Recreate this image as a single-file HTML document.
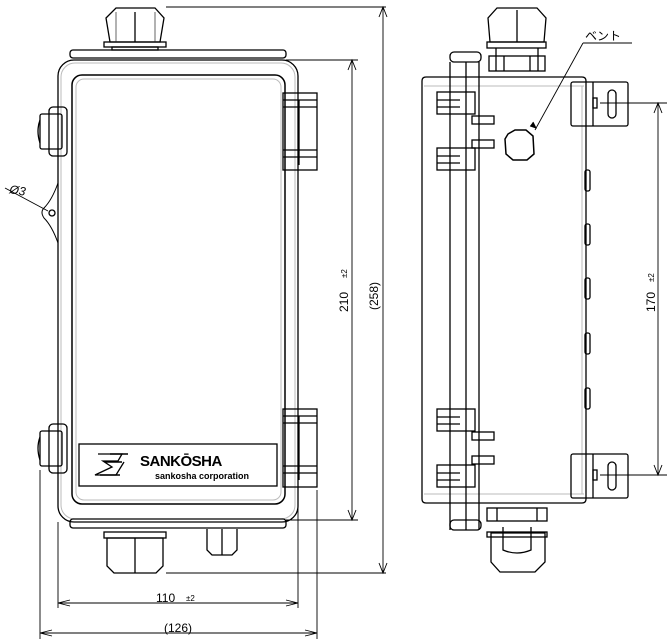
<!DOCTYPE html>
<html><head><meta charset="utf-8"><style>
html,body{margin:0;padding:0;background:#fff;}
svg{display:block}
text{font-family:"Liberation Sans","Noto Sans CJK JP",sans-serif;fill:#000}
</style></head><body>
<svg width="667" height="639" viewBox="0 0 667 639" xmlns="http://www.w3.org/2000/svg" fill="none" stroke="#000" stroke-width="1.3">
<!-- LEFT VIEW -->
<!-- top gland -->
<path d="M110 42 L106 18 L116 8 L155 8 L164 18 L160 42 Z"/>
<line x1="135" y1="12" x2="135" y2="42"/>
<line x1="116" y1="12" x2="116" y2="42" stroke="#888"/>
<line x1="155" y1="12" x2="155" y2="42" stroke="#888"/>
<rect x="104" y="42" width="62" height="5"/>
<rect x="112" y="47" width="46" height="3"/>
<!-- top flange -->
<rect x="70" y="50" width="216" height="8" rx="3"/>
<!-- outer body -->
<rect x="58" y="60" width="240" height="462" rx="16"/>
<rect x="61" y="63" width="234" height="456" rx="14" stroke="#bbb" stroke-width="1"/>
<!-- lid panel -->
<rect x="72" y="75" width="213" height="429" rx="10" stroke-width="1.5"/>
<rect x="76" y="79" width="205" height="421" rx="8" stroke="#bbb" stroke-width="1"/>
<!-- bottom flange -->
<rect x="70" y="519" width="216" height="9" rx="3"/>
<!-- bottom gland -->
<rect x="104" y="532" width="62" height="6"/>
<path d="M107 538 L107 566 L114 573 L156 573 L163 566 L163 538 Z"/>
<line x1="135" y1="538" x2="135" y2="573"/>
<!-- vent bottom -->
<path d="M207 529 L207 550 L212 555 L232 555 L237 550 L237 529"/>
<line x1="222" y1="529" x2="222" y2="555"/>
<!-- hinges right -->
<g>
<rect x="283" y="93" width="34" height="77"/>
<line x1="283" y1="100" x2="317" y2="100"/><line x1="283" y1="107" x2="317" y2="107"/>
<line x1="283" y1="150" x2="317" y2="150"/><line x1="283" y1="157" x2="317" y2="157"/>
<line x1="299" y1="100" x2="299" y2="165"/>
<rect x="283" y="409" width="34" height="78"/>
<line x1="283" y1="416" x2="317" y2="416"/><line x1="283" y1="423" x2="317" y2="423"/>
<line x1="283" y1="466" x2="317" y2="466"/><line x1="283" y1="473" x2="317" y2="473"/>
<line x1="299" y1="416" x2="299" y2="480"/>
</g>
<!-- latches left -->
<rect x="49" y="107" width="18" height="49" rx="4"/>
<rect x="40" y="114" width="22" height="35" rx="2"/>
<path d="M40 120 Q36 131 40 143"/>
<rect x="49" y="424" width="18" height="49" rx="4"/>
<rect x="40" y="431" width="22" height="35" rx="2"/>
<path d="M40 437 Q36 448 40 460"/>
<!-- mounting ear -->
<path d="M58 183 Q52 200 44 208 Q40 212 44 218 Q52 226 58 243" stroke-width="1"/>
<circle cx="52" cy="213" r="3"/>
<line x1="5" y1="188" x2="48" y2="211" stroke-width="0.9"/>
<text x="9" y="193" font-size="12" stroke="none" font-style="italic" transform="rotate(10 9 193)">Ø3</text>
<!-- label -->
<rect x="79" y="444" width="198" height="42"/>
<path d="M98 454 L122 454 L118 461 L103 461 L112 467 L95 475 L116 475 L124 462" stroke-width="1.3"/>
<path d="M110 454 L128 454 M105 462 L122 462 M100 475 L120 475" stroke-width="1.5"/>
<text x="140" y="466" font-size="15" font-weight="bold" stroke="none" letter-spacing="-0.5">SANKŌSHA</text>
<text x="155" y="479" font-size="9" font-weight="bold" stroke="none">sankosha corporation</text>
<!-- dims left -->
<g stroke-width="0.9">
<line x1="166" y1="7" x2="386" y2="7"/>
<line x1="286" y1="60" x2="358" y2="60"/>
<line x1="286" y1="520" x2="358" y2="520"/>
<line x1="166" y1="573" x2="386" y2="573"/>
<line x1="352" y1="60" x2="352" y2="520"/>
<path d="M348 70 L352 60 L356 70 M348 510 L352 520 L356 510"/>
<line x1="383" y1="7" x2="383" y2="573"/>
<path d="M379 17 L383 7 L387 17 M379 563 L383 573 L387 563"/>
<line x1="58" y1="522" x2="58" y2="608"/>
<line x1="298" y1="490" x2="298" y2="608"/>
<line x1="40" y1="470" x2="40" y2="639"/>
<line x1="317" y1="490" x2="317" y2="639"/>
<line x1="58" y1="603" x2="298" y2="603"/>
<path d="M70 600 L58 603 L70 606 M286 600 L298 603 L286 606"/>
<line x1="40" y1="633" x2="317" y2="633"/>
<path d="M52 630 L40 633 L52 636 M305 630 L317 633 L305 636"/>
</g>
<g stroke="none">
<text x="156" y="602" font-size="12">110</text><text x="186" y="601" font-size="8">±2</text>
<text x="164" y="632" font-size="12">(126)</text>
<text transform="translate(348 312) rotate(-90)" font-size="12">210</text>
<text transform="translate(347 278) rotate(-90)" font-size="8">±2</text>
<text transform="translate(378 310) rotate(-90)" font-size="12">(258)</text>
</g>

<!-- RIGHT VIEW -->
<!-- top gland -->
<path d="M490 42 L488 18 L497 8 L537 8 L546 18 L544 42 Z"/>
<line x1="517" y1="10" x2="517" y2="42"/>
<rect x="487" y="42" width="59" height="6"/>
<rect x="489" y="56" width="56" height="15"/>
<line x1="496" y1="48" x2="496" y2="71"/><line x1="538" y1="48" x2="538" y2="71"/>
<line x1="504" y1="56" x2="504" y2="71"/><line x1="530" y1="56" x2="530" y2="71"/>
<!-- body -->
<path d="M426 77 L582 77 Q586 77 586 81 L586 499 Q586 503 582 503 L426 503 Q422 503 422 499 L422 81 Q422 77 426 77 Z"/>
<line x1="424" y1="86" x2="584" y2="86" stroke="#bbb" stroke-width="1"/>
<line x1="424" y1="494" x2="584" y2="494" stroke="#bbb" stroke-width="1"/>
<line x1="582" y1="86" x2="582" y2="494" stroke="#bbb" stroke-width="1"/>
<!-- lid strip -->
<path d="M450 62 L450 530 M466 62 L466 530 M479 62 L479 530"/>
<rect x="450" y="52" width="31" height="10" rx="4"/>
<rect x="450" y="520" width="31" height="10" rx="4"/>
<!-- hinge parts -->
<g>
<rect x="437" y="92" width="38" height="22"/><line x1="437" y1="100" x2="460" y2="100"/><line x1="437" y1="107" x2="460" y2="107"/>
<rect x="437" y="148" width="38" height="22"/><line x1="437" y1="156" x2="460" y2="156"/><line x1="437" y1="163" x2="460" y2="163"/>
<rect x="472" y="116" width="22" height="8"/><rect x="472" y="140" width="22" height="8"/>
<rect x="437" y="409" width="38" height="22"/><line x1="437" y1="417" x2="460" y2="417"/><line x1="437" y1="424" x2="460" y2="424"/>
<rect x="437" y="465" width="38" height="22"/><line x1="437" y1="473" x2="460" y2="473"/><line x1="437" y1="480" x2="460" y2="480"/>
<rect x="472" y="432" width="22" height="8"/><rect x="472" y="456" width="22" height="8"/>
</g>
<!-- vent -->
<path d="M508 134 L515 130 L526 130 L533 136 L534 154 L527 160 L513 160 L506 154 L505 139 Z" stroke-width="1.5"/>
<line x1="535" y1="130" x2="583" y2="43" stroke-width="0.9"/>
<line x1="583" y1="43" x2="632" y2="43" stroke-width="0.9"/>
<path d="M530 126 L536 128 L533 122" fill="#000" stroke-width="0.9"/>
<text x="585" y="40" font-size="12" stroke="none">ベント</text>
<!-- side bumps -->
<rect x="585" y="170" width="5" height="21" rx="2"/>
<rect x="585" y="224" width="5" height="21" rx="2"/>
<rect x="585" y="278" width="5" height="21" rx="2"/>
<rect x="585" y="333" width="5" height="21" rx="2"/>
<rect x="585" y="388" width="5" height="21" rx="2"/>
<!-- brackets -->
<rect x="571" y="82" width="57" height="44" rx="2"/><line x1="593" y1="82" x2="593" y2="126"/>
<rect x="608" y="90" width="8" height="28" rx="4"/>
<rect x="593" y="98" width="4" height="10"/>
<rect x="571" y="454" width="57" height="44" rx="2"/><line x1="593" y1="454" x2="593" y2="498"/>
<rect x="608" y="462" width="8" height="28" rx="4"/>
<rect x="593" y="470" width="4" height="10"/>
<!-- bottom gland -->
<rect x="487" y="508" width="60" height="13"/>
<line x1="497" y1="508" x2="497" y2="521"/><line x1="537" y1="508" x2="537" y2="521"/>
<path d="M491 533 L491 562 L500 572 L535 572 L545 562 L545 533 Z"/>
<rect x="487" y="532" width="60" height="5"/>
<path d="M503 527 L503 550 Q517 556 531 550 L531 527"/>
<!-- 170 dim -->
<g stroke-width="0.9">
<line x1="600" y1="103" x2="667" y2="103"/>
<line x1="600" y1="475" x2="667" y2="475"/>
<line x1="658" y1="103" x2="658" y2="475"/>
<path d="M654 113 L658 103 L662 113 M654 465 L658 475 L662 465"/>
</g>
<text transform="translate(655 312) rotate(-90)" font-size="12" stroke="none">170</text>
<text transform="translate(654 282) rotate(-90)" font-size="8" stroke="none">±2</text>
</svg>
</body></html>
